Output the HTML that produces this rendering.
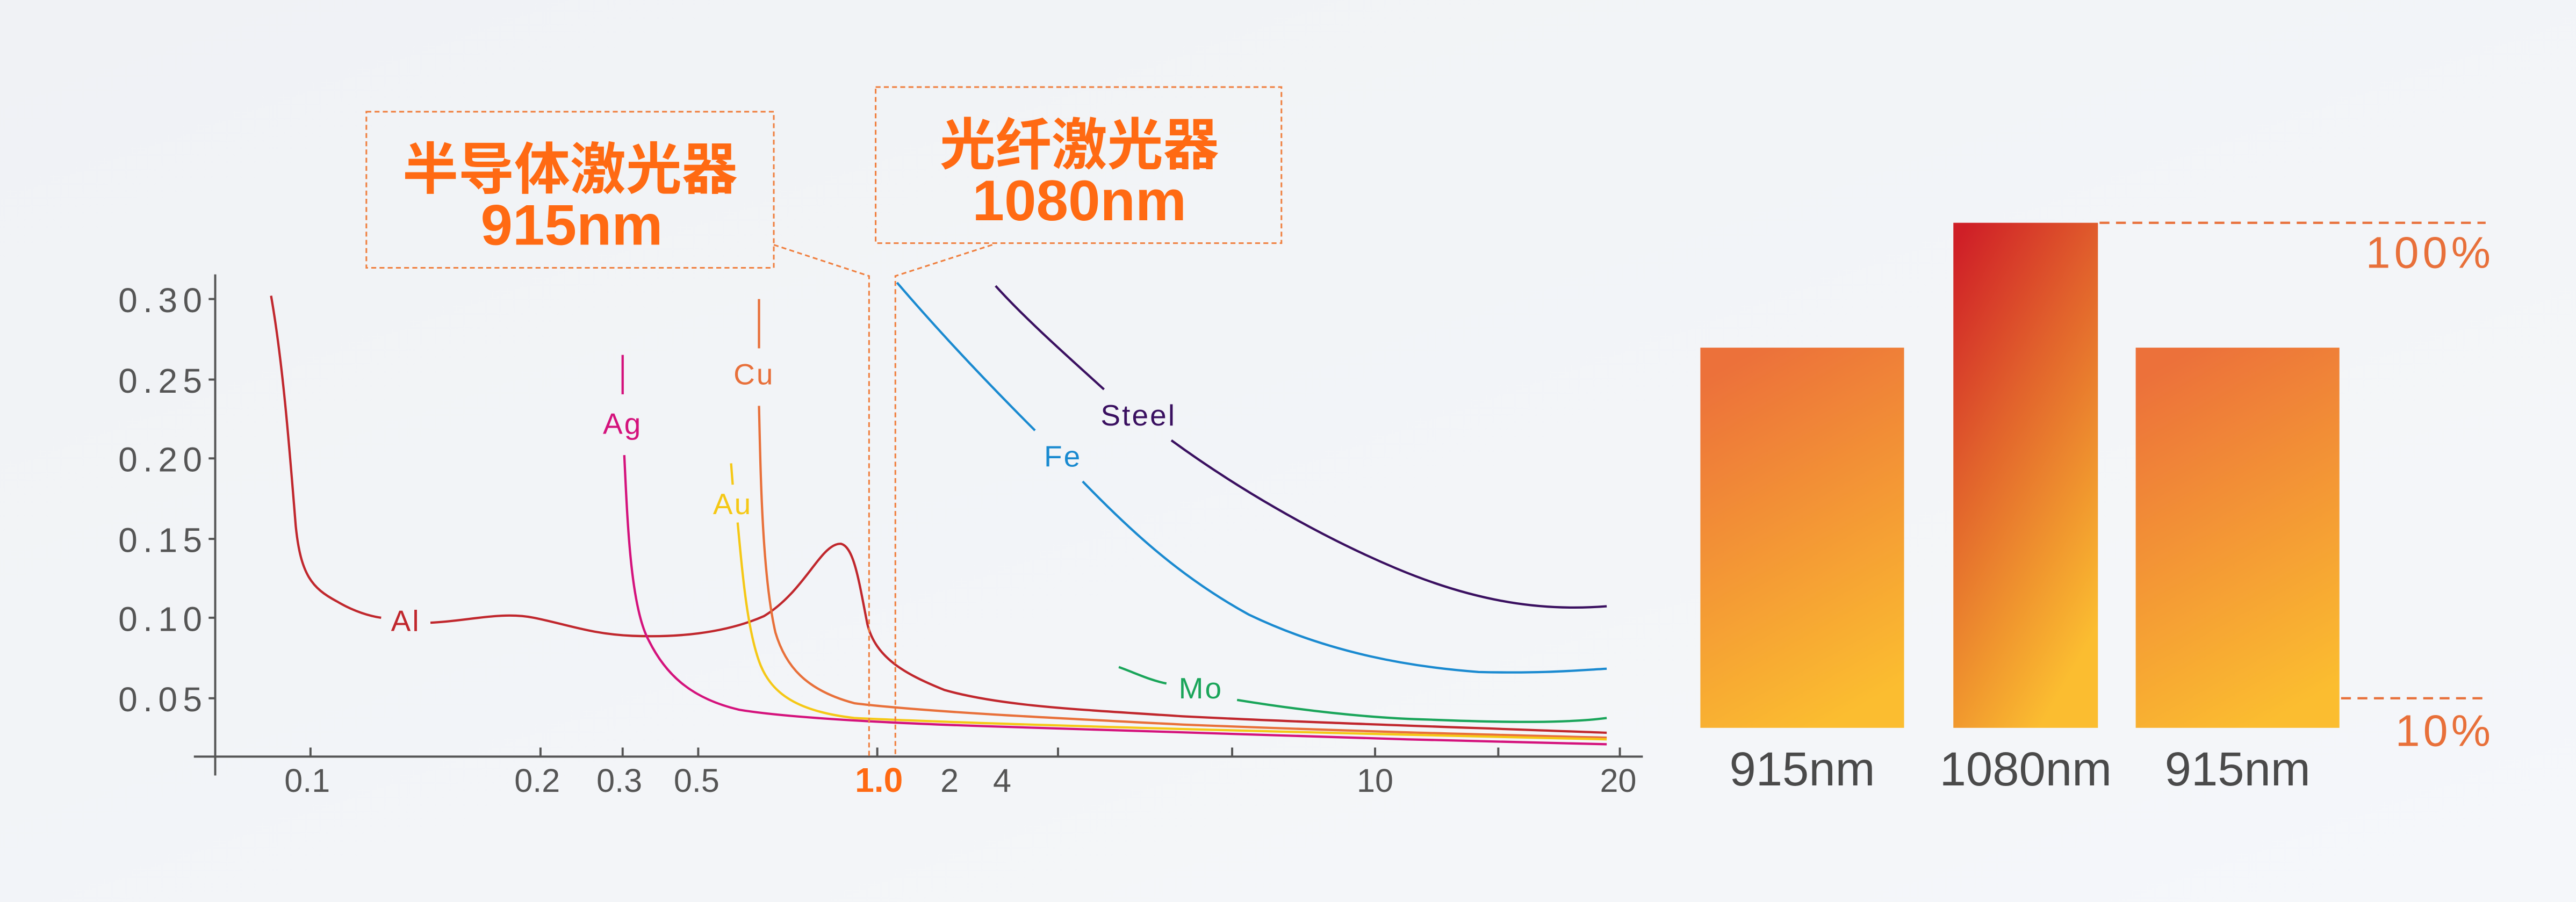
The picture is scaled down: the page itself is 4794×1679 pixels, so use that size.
<!DOCTYPE html>
<html><head><meta charset="utf-8"><style>
html,body{margin:0;padding:0;width:4794px;height:1679px;overflow:hidden;background:#f3f5f8;}
svg{display:block}
text{font-family:"Liberation Sans","Noto Sans CJK SC",sans-serif;}
</style></head><body>
<svg width="4794" height="1679" viewBox="0 0 1568 549" preserveAspectRatio="none" xmlns="http://www.w3.org/2000/svg">
<defs>
<linearGradient id="bg" x1="0" y1="0" x2="1" y2="1"><stop offset="0" stop-color="#f0f2f5"/><stop offset="1" stop-color="#f5f7fa"/></linearGradient>
<linearGradient id="g1" x1="0.3" y1="0" x2="0.6" y2="1"><stop offset="0" stop-color="#ec713a"/><stop offset="1" stop-color="#fbbd30"/></linearGradient>
<linearGradient id="g2" x1="0.1" y1="0" x2="0.6" y2="1"><stop offset="0" stop-color="#cf1f27"/><stop offset="0.4" stop-color="#e1612c"/><stop offset="1" stop-color="#fbbd30"/></linearGradient>
</defs>
<rect width="1568" height="549" fill="url(#bg)"/>
<g stroke="#555" stroke-width="1.3" fill="none">
<line x1="131" y1="167" x2="131" y2="472"/>
<line x1="118" y1="460.5" x2="1000" y2="460.5"/>
<path d="M127 182H131M127 231H131M127 279H131M127 328H131M127 376H131M127 425H131"/>
<path d="M189 455V460M329 455V460M379 455V460M425 455V460M534 455V460M644 455V460M750 455V460M837 455V460M912 455V460M986 455V460"/>
</g>
<g fill="#555" font-size="21">
<text x="72" y="190" textLength="51">0.30</text><text x="72" y="239" textLength="51">0.25</text><text x="72" y="287" textLength="51">0.20</text>
<text x="72" y="336" textLength="51">0.15</text><text x="72" y="384" textLength="51">0.10</text><text x="72" y="433" textLength="51">0.05</text>
</g>
<g fill="#555" font-size="20" text-anchor="middle">
<text x="187" y="482">0.1</text><text x="327" y="482">0.2</text><text x="377" y="482">0.3</text><text x="424" y="482">0.5</text>
<text x="578" y="482">2</text><text x="610" y="482">4</text><text x="837" y="482">10</text><text x="985" y="482">20</text>
</g>
<text x="535" y="482" fill="#ff6a13" font-size="21" font-weight="bold" text-anchor="middle">1.0</text>
<g fill="none" stroke-width="1.4">
<path stroke="#c0272d" d="M165 180C172 220 176 270 180 320C183 350 190 358 205 366C215 372 225 375 232 376"/>
<path stroke="#c0272d" d="M262 379C285 378 305 372 325 376C345 380 360 386 385 387C410 388 440 386 465 375C490 360 500 330 512 331C520 333 523 355 528 380C533 400 550 410 575 420C610 430 660 432 720 436C800 440 900 443 978 446"/>
<path stroke="#d4127c" d="M379 216V240M380 277C382 320 384 370 395 390C405 410 420 425 450 432C480 437 540 440 600 442C700 446 850 450 978 453"/>
<path stroke="#e8703a" d="M462 182V212M462 247C463 290 464 350 472 385C478 405 490 420 520 428C560 433 640 437 720 441C820 445 900 447 978 449"/>
<path stroke="#f5c816" d="M445 282L446 295M449 318C452 350 455 385 463 405C470 422 485 433 520 437C600 441 800 446 978 450"/>
<path stroke="#1a8ad0" d="M546 172C570 200 600 232 630 262M659 293C690 325 720 352 760 374C810 398 860 406 900 409C940 410 960 408 978 407"/>
<path stroke="#3a1060" d="M606 174C625 195 650 217 672 237M713 268C750 295 800 325 850 346C900 367 940 372 978 369"/>
<path stroke="#1aa55a" d="M681 406C692 410 700 414 710 416M753 426C790 432 830 437 870 438C920 440 955 440 978 437"/>
</g>
<g font-size="18" text-anchor="middle" letter-spacing="1">
<text x="247" y="384" fill="#c0272d">Al</text>
<text x="379" y="264" fill="#d4127c">Ag</text>
<text x="459" y="234" fill="#e8703a">Cu</text>
<text x="446" y="313" fill="#f5c816">Au</text>
<text x="647" y="284" fill="#1a8ad0">Fe</text>
<text x="693" y="259" fill="#3a1060">Steel</text>
<text x="731" y="425" fill="#1aa55a">Mo</text>
</g>
<g fill="none" stroke="#f08040" stroke-width="1" stroke-dasharray="3,2">
<rect x="223" y="68" width="248" height="95"/>
<rect x="533" y="53" width="247" height="95"/>
<path d="M471 149L529 168V460"/>
<path d="M604 149L545 168V460"/>
</g>
<g fill="#ff6a13" font-weight="bold" text-anchor="middle">
<text x="347" y="115" font-size="34">半导体激光器</text>
<text x="348" y="149" font-size="35">915nm</text>
<text x="657" y="100" font-size="34">光纤激光器</text>
<text x="657" y="134" font-size="35">1080nm</text>
</g>
<rect x="1035" y="211.6" width="124" height="231.4" fill="url(#g1)"/>
<rect x="1189" y="135.6" width="88" height="307.4" fill="url(#g2)"/>
<rect x="1300" y="211.6" width="124" height="231.4" fill="url(#g1)"/>
<g stroke="#e8703a" stroke-width="1.4" stroke-dasharray="6,4">
<line x1="1278" y1="135.6" x2="1513" y2="135.6"/>
<line x1="1425" y1="425" x2="1513" y2="425"/>
</g>
<g fill="#e8703a" font-size="27" text-anchor="end">
<text x="1516" y="163" textLength="76">100%</text>
<text x="1516" y="454" textLength="58">10%</text>
</g>
<g fill="#4a4a4a" font-size="29" text-anchor="middle">
<text x="1097" y="478">915nm</text>
<text x="1233" y="478">1080nm</text>
<text x="1362" y="478">915nm</text>
</g>
</svg>
</body></html>
